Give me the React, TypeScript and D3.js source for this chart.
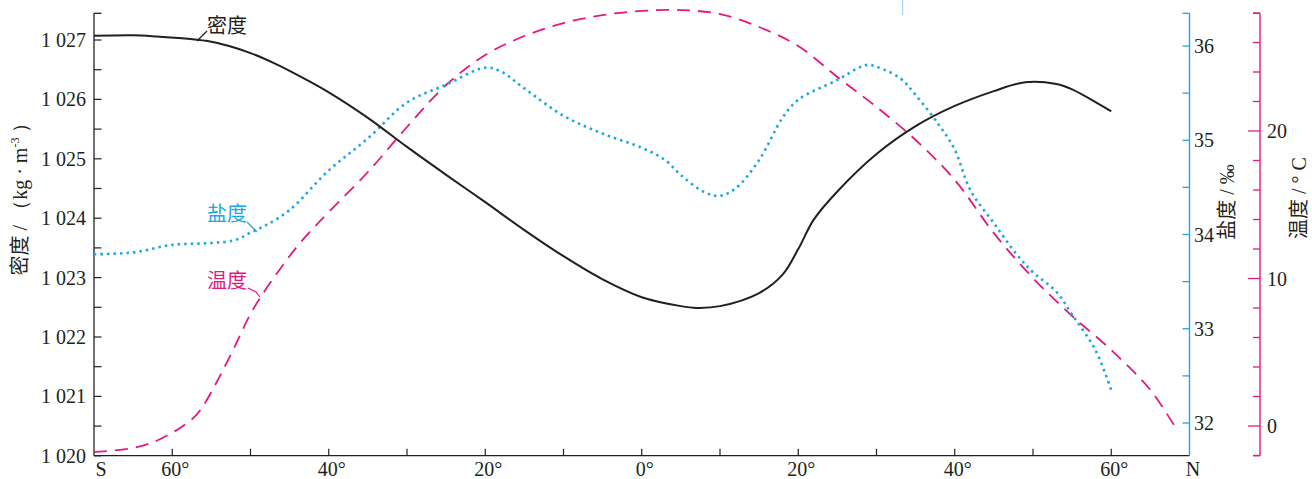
import React from 'react';
import * as d3 from 'd3';

// Data (latitude: negative = south, positive = north)
const densityLat = [-70, -65, -62, -58, -55, -52, -50, -47, -45, -40, -35, -30, -25, -20, -15, -10, -5, 0, 5, 7, 10, 15, 18, 20, 22, 25, 30, 35, 40, 45, 49, 53, 55, 60];
const densityVal = [1027.07, 1027.08, 1027.06, 1027.02, 1026.97, 1026.87, 1026.78, 1026.61, 1026.48, 1026.12, 1025.69, 1025.2, 1024.73, 1024.27, 1023.8, 1023.36, 1022.97, 1022.67, 1022.52, 1022.49, 1022.52, 1022.74, 1023.05, 1023.48, 1023.98, 1024.45, 1025.08, 1025.55, 1025.89, 1026.14, 1026.29, 1026.26, 1026.17, 1025.8];

const salinityLat = [-70, -65, -60, -55, -52, -50, -48, -45, -40, -35, -30, -25, -20, -18, -15, -10, -5, 0, 3, 5, 8, 10, 12, 15, 18, 20, 25, 28, 29, 30, 33, 35, 38, 40, 42, 45, 48, 50, 53, 55, 58, 60];
const salinityVal = [33.79, 33.81, 33.89, 33.91, 33.94, 34.02, 34.1, 34.26, 34.68, 35.02, 35.4, 35.59, 35.77, 35.73, 35.55, 35.26, 35.07, 34.92, 34.79, 34.63, 34.45, 34.41, 34.49, 34.79, 35.24, 35.43, 35.64, 35.78, 35.8, 35.78, 35.66, 35.48, 35.16, 34.9, 34.47, 34.12, 33.78, 33.6, 33.39, 33.15, 32.77, 32.35];

const tempLat = [-70, -65, -62, -60, -59, -57, -56, -54, -52, -50, -48, -46, -44, -42, -40, -35, -30, -25, -20, -15, -10, -5, 0, 5, 10, 15, 20, 25, 30, 35, 40, 45, 50, 55, 60, 65, 68];
const tempVal = [-1.76, -1.49, -1.0, -0.45, -0.14, 0.7, 1.4, 3.3, 5.4, 7.6, 9.3, 10.8, 12.2, 13.4, 14.5, 17.22, 20.27, 23.12, 25.15, 26.44, 27.32, 27.86, 28.14, 28.2, 27.93, 27.05, 25.76, 23.66, 21.63, 19.39, 16.68, 13.08, 10.03, 7.46, 5.15, 2.44, 0.07];

const latTicks = [-60, -50, -40, -30, -20, -10, 0, 10, 20, 30, 40, 50, 60];
const latLabels = [-60, -40, -20, 0, 20, 40, 60];
const densityTicks = [1020, 1021, 1022, 1023, 1024, 1025, 1026, 1027];
const salinityTicks = [32, 33, 34, 35, 36];
const tempTicks = [0, 10, 20];

const BLACK = '#231f20';
const BLUE = '#1ea7e1';
const PINK = '#e4197f';
const SERIF = '"Liberation Serif", "Times New Roman", serif';
const CJK = '"Noto Sans CJK SC", sans-serif';

export default function App() {
  const axTop = 13.3;
  const axBottom = 455.7;
  const x = d3.scaleLinear().domain([-70, 70]).range([94, 1189.5]);
  const yD = d3.scaleLinear().domain([1020, 1027]).range([455.8, 40]);
  const yS = d3.scaleLinear().domain([32, 36]).range([423, 46]);
  const yT = d3.scaleLinear().domain([0, 20]).range([426, 131]);

  const lineD = d3.line<number>().x((_, i) => x(densityLat[i])).y((d) => yD(d)).curve(d3.curveCatmullRom.alpha(0.5));
  const lineS = d3.line<number>().x((_, i) => x(salinityLat[i])).y((d) => yS(d)).curve(d3.curveCatmullRom.alpha(0.5));
  const lineT = d3.line<number>().x((_, i) => x(tempLat[i])).y((d) => yT(d)).curve(d3.curveCatmullRom.alpha(0.5));

  const xL = x(-70);
  const xR = x(70);
  const xT = 1260;

  const dMinor = d3.range(1020, 1027.01, 0.5);
  const sMinor = d3.range(32, 36.01, 0.5);
  const tMinor = d3.range(-2, 28.01, 2);

  return (
    <svg width={1312} height={479} style={{ position: 'absolute', left: 0, top: 0, background: '#fff' }}>
      {/* stray light-blue line at top */}
      <line x1={902.5} x2={902.5} y1={0} y2={15} stroke="#9fd8f3" strokeWidth={1.2} />

      {/* Left density axis */}
      <line x1={xL} x2={xL} y1={axTop} y2={axBottom} stroke={BLACK} strokeWidth={1.3} />
      <line x1={xL} x2={xL + 7.5} y1={axTop} y2={axTop} stroke={BLACK} strokeWidth={1.3} />
      {dMinor.map((v) => (
        <line key={'dm' + v} x1={xL} x2={xL + 7.5} y1={yD(v)} y2={yD(v)} stroke={BLACK} strokeWidth={1.2} />
      ))}
      {densityTicks.map((v) => (
        <text key={'dl' + v} x={86} y={yD(v)} dy="0.35em" textAnchor="end" fontFamily={SERIF} fontSize={20} fill={BLACK}>
          {'1 ' + String(v).slice(1)}
        </text>
      ))}
      <text transform={`translate(27,194) rotate(-90)`} textAnchor="middle" fontSize={20} fill={BLACK}>
        <tspan fontFamily={CJK}>密度</tspan>
        <tspan fontFamily={SERIF}> / （kg · m</tspan>
        <tspan fontFamily={SERIF} fontSize={12} dy={-8}>-3</tspan>
        <tspan fontFamily={SERIF} dy={8}> ）</tspan>
      </text>

      {/* Bottom latitude axis */}
      <line x1={xL} x2={xR} y1={axBottom} y2={axBottom} stroke={BLACK} strokeWidth={1.3} />
      {latTicks.map((v) => (
        <line key={'xt' + v} x1={x(v)} x2={x(v)} y1={axBottom} y2={axBottom - 7} stroke={BLACK} strokeWidth={1.2} />
      ))}
      {latLabels.map((v) => (
        <text key={'xl' + v} x={x(v) + 3} y={476} textAnchor="middle" fontFamily={SERIF} fontSize={20} fill={BLACK}>
          {Math.abs(v) + '°'}
        </text>
      ))}
      <text x={101} y={476} textAnchor="middle" fontFamily={SERIF} fontSize={20} fill={BLACK}>S</text>
      <text x={1193} y={476} textAnchor="middle" fontFamily={SERIF} fontSize={20} fill={BLACK}>N</text>

      {/* Salinity axis */}
      <line x1={xR} x2={xR} y1={axTop} y2={axBottom} stroke={BLUE} strokeWidth={1.4} />
      <line x1={xR - 7} x2={xR} y1={axTop} y2={axTop} stroke={BLUE} strokeWidth={1.3} />
      {sMinor.map((v) => (
        <line key={'sm' + v} x1={xR - 7} x2={xR} y1={yS(v)} y2={yS(v)} stroke={BLUE} strokeWidth={1.3} />
      ))}
      {salinityTicks.map((v) => (
        <text key={'sl' + v} x={1194} y={yS(v)} dy="0.35em" fontFamily={SERIF} fontSize={20} fill={BLACK}>
          {v}
        </text>
      ))}
      <text transform={`translate(1234,202) rotate(-90)`} textAnchor="middle" fontSize={20} fill={BLACK}>
        <tspan fontFamily={CJK}>盐度</tspan>
        <tspan fontFamily={SERIF}> / ‰</tspan>
      </text>

      {/* Temperature axis */}
      <line x1={xT} x2={xT} y1={axTop} y2={axBottom} stroke={PINK} strokeWidth={1.4} />
      <line x1={xT - 7} x2={xT} y1={axTop} y2={axTop} stroke={PINK} strokeWidth={1.3} />
      <line x1={xT - 7} x2={xT} y1={axBottom} y2={axBottom} stroke={PINK} strokeWidth={1.3} />
      {tMinor.map((v) => (
        <line key={'tm' + v} x1={tempTicks.includes(v) ? xT - 12 : xT - 7} x2={xT} y1={yT(v)} y2={yT(v)} stroke={PINK} strokeWidth={1.3} />
      ))}
      {tempTicks.map((v) => (
        <text key={'tl' + v} x={1267} y={yT(v)} dy="0.35em" fontFamily={SERIF} fontSize={20} fill={BLACK}>
          {v}
        </text>
      ))}
      <text transform={`translate(1306,198) rotate(-90)`} textAnchor="middle" fontSize={20} fill={BLACK}>
        <tspan fontFamily={CJK}>温度</tspan>
        <tspan fontFamily={SERIF}> / ° C</tspan>
      </text>

      {/* Curves */}
      <path d={lineT(tempVal) || ''} fill="none" stroke={PINK} strokeWidth={1.8} strokeDasharray="13 8" />
      <path d={lineS(salinityVal) || ''} fill="none" stroke={BLUE} strokeWidth={2.6} strokeDasharray="2.5 4" />
      <path d={lineD(densityVal) || ''} fill="none" stroke={BLACK} strokeWidth={2} />

      {/* Curve labels with leader lines */}
      <text x={207} y={33} fontFamily={CJK} fontSize={20} fill={BLACK}>密度</text>
      <path d="M197,41 L207,31" fill="none" stroke={BLACK} strokeWidth={1.2} />

      <text x={207} y={221} fontFamily={CJK} fontSize={20} fill={BLUE}>盐度</text>
      <path d="M247,222 L254,229 L257,232" fill="none" stroke={BLUE} strokeWidth={1.2} />

      <text x={207} y={288} fontFamily={CJK} fontSize={20} fill={PINK}>温度</text>
      <path d="M248,288 L256,292 L260,297" fill="none" stroke={PINK} strokeWidth={1.2} />
    </svg>
  );
}
